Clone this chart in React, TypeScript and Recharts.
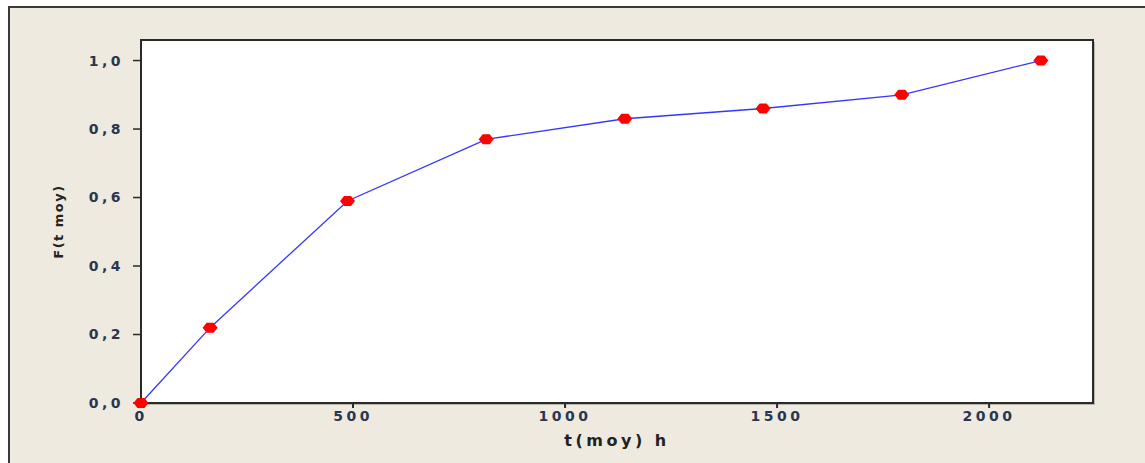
import { LineChart, Line, XAxis, YAxis, ReferenceArea } from 'recharts';

// mean time per class (h) and cumulative failure function
const tMoy = [0, 163, 487, 814, 1141, 1467, 1794, 2122];
const fValues = [0, 0.22, 0.59, 0.77, 0.83, 0.86, 0.9, 1.0];

const xTicks = [0, 500, 1000, 1500, 2000];
const yTicks = [0, 0.2, 0.4, 0.6, 0.8, 1.0];

const data = tMoy.map((t, i) => ({ t, f: fValues[i] }));

const FONT = '"DejaVu Sans", Verdana, sans-serif';
const TEXT = '#2a3550';

const fmtY = (v: number) => v.toFixed(1).replace('.', ',');

const Diamond = (props: any) => {
  const { cx, cy } = props;
  if (cx == null || cy == null) return null;
  const pts = [
    [cx - 7.5, cy],
    [cx - 3.5, cy - 5],
    [cx + 3.5, cy - 5],
    [cx + 7.5, cy],
    [cx + 3.5, cy + 5],
    [cx - 3.5, cy + 5],
  ]
    .map((p) => p.join(','))
    .join(' ');
  return <polygon points={pts} fill="#ff0000" />;
};

const YTitle = (props: any) => {
  const { viewBox } = props;
  const cy = viewBox.y + viewBox.height / 2;
  return (
    <text
      x={58}
      y={cy}
      transform={`rotate(-90 58 ${cy})`}
      textAnchor="middle"
      dominantBaseline="central"
      fontFamily={FONT}
      fontSize={13}
      fontWeight="bold"
      letterSpacing={1.5}
      fill="#222"
    >
      F(t moy)
    </text>
  );
};

const XTitle = (props: any) => {
  const { viewBox } = props;
  const cx = viewBox.x + viewBox.width / 2;
  return (
    <text
      x={cx}
      y={446}
      textAnchor="middle"
      fontFamily={FONT}
      fontSize={16}
      fontWeight="bold"
      letterSpacing={3.5}
      fill="#222"
    >
      t(moy) h
    </text>
  );
};

export default function App() {
  const tickStyle = {
    fontFamily: FONT,
    fontSize: 14,
    fontWeight: 'bold' as const,
    letterSpacing: 3.5,
    fill: TEXT,
  };

  return (
    <div
      style={{
        position: 'absolute',
        left: 0,
        top: 0,
        width: 1145,
        height: 463,
        background: '#ffffff',
        overflow: 'hidden',
      }}
    >
      <div
        style={{
          position: 'absolute',
          left: 8,
          top: 6,
          width: 1200,
          height: 500,
          background: '#eeeae0',
          borderLeft: '2px solid #3a3a3a',
          borderTop: '2px solid #3a3a3a',
        }}
      />
      {/* soft shadow behind the plot box */}
      <div
        style={{
          position: 'absolute',
          left: 143,
          top: 42,
          width: 952,
          height: 363,
          background: '#b8b5ad',
        }}
      />
      <div style={{ position: 'absolute', left: 0, top: 0 }}>
        <LineChart
          width={1145}
          height={463}
          data={data}
          margin={{ top: 40, right: 52, bottom: 0, left: 0 }}
        >
          <ReferenceArea
            x1={0}
            x2={2245}
            y1={0}
            y2={1.06}
            fill="#ffffff"
            fillOpacity={1}
            stroke="#2a2a2a"
            strokeWidth={2}
            ifOverflow="visible"
          />
          <XAxis
            type="number"
            dataKey="t"
            domain={[0, 2245]}
            ticks={xTicks}
            height={60}
            tickSize={5}
            tickMargin={3}
            tick={tickStyle}
            axisLine={{ stroke: '#2a2a2a', strokeWidth: 2 }}
            tickLine={{ stroke: '#2a2a2a', strokeWidth: 2 }}
            label={<XTitle />}
          />
          <YAxis
            type="number"
            domain={[0, 1.06]}
            ticks={yTicks}
            width={141}
            tickSize={8}
            tickMargin={9}
            tickFormatter={fmtY}
            tick={tickStyle}
            axisLine={{ stroke: '#2a2a2a', strokeWidth: 2 }}
            tickLine={{ stroke: '#2a2a2a', strokeWidth: 1.5 }}
            label={<YTitle />}
          />
          <Line
            type="linear"
            dataKey="f"
            stroke="#3535ff"
            strokeWidth={1.3}
            dot={<Diamond />}
            activeDot={false}
            isAnimationActive={false}
          />
        </LineChart>
      </div>
    </div>
  );
}
